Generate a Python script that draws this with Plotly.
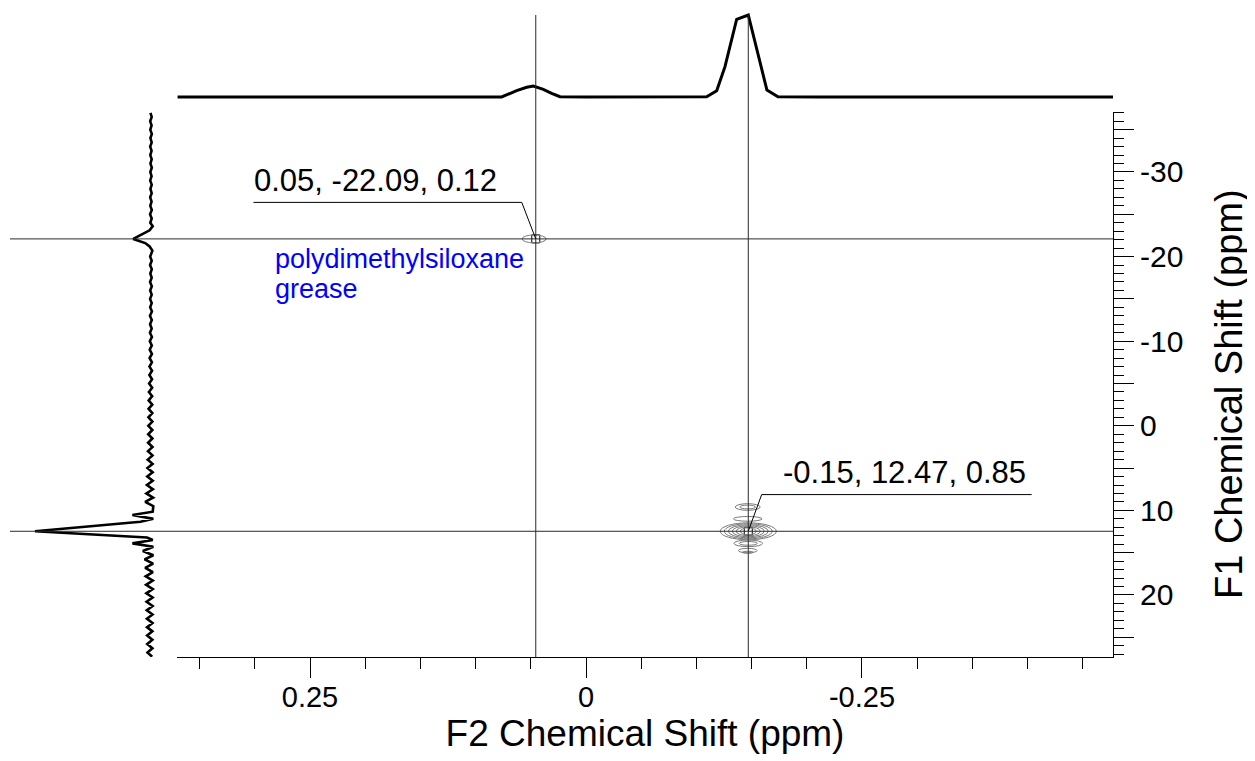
import plotly.graph_objects as go

# ---------------- data ----------------
# F2 projection (top trace): chemical shift (ppm) and relative intensity
f2_ppm = [0.37, 0.34, 0.31, 0.28, 0.25, 0.22, 0.19, 0.16, 0.145, 0.141, 0.137,
          0.11, 0.09, 0.0764, 0.0628, 0.0537, 0.0477, 0.0387, 0.0311, 0.0236,
          0.0, -0.02, -0.04, -0.06, -0.08, -0.1, -0.1093, -0.1184, -0.1259,
          -0.1365, -0.147, -0.1549, -0.1639, -0.1739, -0.19, -0.21, -0.23,
          -0.25, -0.27, -0.285, -0.289, -0.293, -0.31, -0.33, -0.35, -0.37,
          -0.39, -0.41, -0.43, -0.45, -0.4774]
f2_int = [0, 0, 0, 0, 0, 0, 0, 0, 0.002, 0.008, 0.002,
          0, 0, 0.0, 0.077, 0.118, 0.134, 0.094, 0.045, 0.004,
          0, 0, 0, 0, 0, 0.002, 0.004, 0.077, 0.37,
          0.948, 1.0, 0.573, 0.085, 0.004, 0, 0, 0,
          0, 0, 0.002, 0.008, 0.002, 0, 0, 0, 0,
          0, 0, 0, 0, 0]

# F1 projection (left trace)
f1_ppm = [-37.0, -36.5, -36.0, -35.5, -35.0, -34.5, -34.0, -33.5, -33.0, -32.5,
          -32.0, -31.5, -31.0, -30.5, -30.0, -29.5, -29.0, -28.5, -28.0, -27.5,
          -27.0, -26.5, -26.0, -25.5, -25.0, -24.5, -24.0,
          -23.6, -23.1, -22.7, -22.09, -21.6, -21.2, -20.7,
          -20.0, -19.5, -19.0, -18.5, -18.0, -17.5, -17.0, -16.5, -16.0, -15.5,
          -15.0, -14.5, -14.0, -13.5, -13.0, -12.5, -12.0, -11.5, -11.0, -10.5,
          -10.0, -9.5, -9.0, -8.5, -8.0, -7.5, -7.0, -6.5, -6.0, -5.5,
          -5.0, -4.5, -4.0, -3.5, -3.0, -2.5, -2.0, -1.5, -1.0, -0.5,
          0.0, 0.5, 1.0, 1.5, 2.0, 2.5, 3.0, 3.5, 4.0, 4.5,
          5.0, 5.5, 6.0, 6.5, 7.0, 7.5, 8.0, 8.5, 9.0, 9.5,
          10.15, 10.55, 11.0, 11.35, 12.47, 13.2, 13.5, 13.9, 14.3,
          14.8, 15.3, 15.8, 16.3, 16.8, 17.3, 17.8, 18.3, 18.8, 19.3,
          19.8, 20.3, 20.8, 21.3, 21.8, 22.3, 22.8, 23.3, 23.8, 24.3,
          24.8, 25.3, 25.8, 26.3, 26.8, 27.3]
f1_int = [0.005, -0.006, 0.007, -0.005, 0.006, -0.007, 0.005, -0.006, 0.007, -0.005,
          0.006, -0.006, 0.005, -0.007, 0.006, -0.005, 0.007, -0.006, 0.005, -0.006,
          0.007, -0.005, 0.006, -0.007, 0.008, -0.006, 0.006,
          -0.015, 0.012, 0.07, 0.153, 0.05, 0.012, -0.012,
          0.007, -0.006, 0.008, -0.007, 0.006, -0.006, 0.008, -0.007, 0.007, -0.006,
          0.008, -0.006, 0.007, -0.008, 0.009, -0.007, 0.008, -0.006, 0.009, -0.008,
          0.010, -0.007, 0.011, -0.008, 0.012, -0.008, 0.013, -0.009, 0.014, -0.009,
          0.016, -0.010, 0.018, -0.010, 0.020, -0.011, 0.021, -0.011, 0.022, -0.012,
          0.023, -0.012, 0.024, -0.012, 0.025, -0.013, 0.026, -0.013, 0.028, -0.014,
          0.030, -0.014, 0.032, -0.015, 0.035, -0.016, 0.040, -0.018, 0.050, -0.020,
          -0.015, 0.16, -0.02, 0.09, 1.0, 0.035, -0.015, 0.16, -0.02,
          0.07, -0.02, 0.055, -0.018, 0.05, -0.016, 0.045, -0.015, 0.042, -0.015,
          0.04, -0.014, 0.038, -0.014, 0.036, -0.013, 0.035, -0.013, 0.034, -0.012,
          0.033, -0.012, 0.032, -0.012, 0.03, -0.01]

# picked peaks
peak_f2 = [0.0455, -0.147]
peak_f1 = [-22.09, 12.47]
peak_labels = ["0.05, -22.09, 0.12", "-0.15, 12.47, 0.85"]
peak_name = ["polydimethylsiloxane", "grease"]

# contour rings (center F2, center F1, half-width F2, half-height F1) in ppm
contour_f2 = [0.047, -0.147, -0.147, -0.147, -0.147, -0.147, -0.147,
              -0.1465, -0.1465, -0.1465, -0.147, -0.147, -0.1465, -0.1465]
contour_f1 = [-22.09, 12.47, 12.47, 12.47, 12.47, 12.47, 12.47,
              9.6, 9.6, 11.0, 13.9, 13.9, 14.75, 14.95]
contour_hw = [0.0109, 0.0254, 0.0217, 0.0181, 0.0145, 0.0109, 0.0072,
              0.0113, 0.0072, 0.0130, 0.0130, 0.0082, 0.0085, 0.0050]
contour_hh = [0.47, 1.0, 0.89, 0.77, 0.65, 0.53, 0.41,
              0.39, 0.22, 0.28, 0.39, 0.22, 0.26, 0.12]

x_tickvals = [0.25, 0, -0.25]
x_ticktext = ["0.25", "0", "-0.25"]
y_tickvals = [-35, -30, -25, -20, -15, -10, -5, 0, 5, 10, 15, 20, 25]
y_ticktext = ["", "-30", "", "-20", "", "-10", "", "0", "", "10", "", "20", ""]
x_title = "F2 Chemical Shift (ppm)"
y_title = "F1 Chemical Shift (ppm)"

# ---------------- layout geometry ----------------
# target positions are given in window pixels; the page body adds an 8 px margin
OFF = 8
W, H = 1255 - OFF, 761 - OFF


def fx(px):
    return (px - OFF) / W


def fy(py):
    return 1 - (py - OFF) / H


PL, PR, PT, PB = 177, 1113, 112, 657
TOP_T, TOP_B = 10, 100
TOP_BASE, TOP_PEAK = 97, 15
LEFT_BASE, LEFT_PEAK = 151, 35

x_range = [0.3705, -0.4774]
y_range = [27.33, -37.09]

fb = (TOP_B - TOP_BASE) / (TOP_B - TOP_T)
fp = (TOP_B - TOP_PEAK) / (TOP_B - TOP_T)
span = 1 / (fp - fb)
y2_range = [-fb * span, -fb * span + span]
L0 = OFF
gb = (LEFT_BASE - L0) / (PL - L0)
gp = (LEFT_PEAK - L0) / (PL - L0)
span3 = 1 / (gp - gb)
x3_range = [-gb * span3, -gb * span3 + span3]

FONT = "Liberation Sans, Arial, sans-serif"

fig = go.Figure()

fig.add_trace(go.Scatter(x=f2_ppm, y=f2_int, xaxis="x", yaxis="y2", mode="lines",
                         line=dict(color="black", width=3), hoverinfo="skip",
                         showlegend=False))
fig.add_trace(go.Scatter(x=f1_int, y=f1_ppm, xaxis="x3", yaxis="y", mode="lines",
                         line=dict(color="black", width=2.6), hoverinfo="skip",
                         showlegend=False))
fig.add_trace(go.Scatter(x=peak_f2, y=peak_f1, xaxis="x", yaxis="y", mode="markers",
                         marker=dict(symbol="square-open", size=8,
                                     line=dict(color="black", width=1), color="black"),
                         hoverinfo="skip", showlegend=False))

shapes = []
for cx, cy, hw, hh in zip(contour_f2, contour_f1, contour_hw, contour_hh):
    shapes.append(dict(type="circle", xref="x", yref="y",
                       x0=cx - hw, x1=cx + hw, y0=cy - hh, y1=cy + hh,
                       line=dict(color="#7a7a7a", width=1), layer="above"))
for px in peak_f2:
    shapes.append(dict(type="line", xref="x", yref="paper", x0=px, x1=px,
                       y0=fy(PB), y1=fy(TOP_PEAK),
                       line=dict(color="#2a2a2a", width=1)))
for py in peak_f1:
    shapes.append(dict(type="line", xref="paper", yref="y", x0=fx(10), x1=fx(PR),
                       y0=py, y1=py, line=dict(color="#2a2a2a", width=1)))
leaders = [(-14, 36.5, -282.3), (13.4, 36.7, 283.4)]
for (px, py, (lx, ly, ux)) in zip(peak_f2, peak_f1, leaders):
    shapes.append(dict(type="line", xref="x", yref="y", xsizemode="pixel",
                       ysizemode="pixel", xanchor=px, yanchor=py,
                       x0=0, y0=0, x1=lx, y1=ly, line=dict(color="black", width=1)))
    shapes.append(dict(type="line", xref="x", yref="y", xsizemode="pixel",
                       ysizemode="pixel", xanchor=px, yanchor=py,
                       x0=lx, y0=ly, x1=ux, y1=ly, line=dict(color="black", width=1)))

annotations = [
    dict(x=peak_f2[0], y=peak_f1[0], xref="x", yref="y", text=peak_labels[0],
         showarrow=False, xanchor="left", yanchor="bottom", xshift=-284, yshift=39,
         font=dict(family=FONT, size=31, color="black")),
    dict(x=peak_f2[1], y=peak_f1[1], xref="x", yref="y", text=peak_labels[1],
         showarrow=False, xanchor="left", yanchor="bottom", xshift=33, yshift=39,
         font=dict(family=FONT, size=31, color="black")),
    dict(x=peak_f2[0], y=peak_f1[0], xref="x", yref="y", text=peak_name[0],
         showarrow=False, xanchor="left", yanchor="top", xshift=-263, yshift=-3,
         font=dict(family=FONT, size=27, color="#0000ff")),
    dict(x=peak_f2[0], y=peak_f1[0], xref="x", yref="y", text=peak_name[1],
         showarrow=False, xanchor="left", yanchor="top", xshift=-263, yshift=-33,
         font=dict(family=FONT, size=27, color="#0000ff")),
    dict(x=fx(1229), y=fy(394), xref="paper", yref="paper", text=y_title,
         showarrow=False, textangle=-90, xanchor="center", yanchor="middle",
         font=dict(family=FONT, size=38, color="black")),
]

fig.update_layout(
    width=W, height=H, autosize=False,
    margin=dict(l=0, r=0, t=0, b=0, pad=0),
    paper_bgcolor="white", plot_bgcolor="white",
    font=dict(family=FONT, color="black"),
    showlegend=False,
    xaxis=dict(domain=[fx(PL), fx(PR)], range=x_range, anchor="y",
               showgrid=False, zeroline=False, showline=True, linecolor="black",
               linewidth=1, ticks="outside", ticklen=20, tickwidth=1,
               tickcolor="black", tickvals=x_tickvals, ticktext=x_ticktext,
               tickfont=dict(family=FONT, size=29), ticklabelstandoff=-6,
               minor=dict(dtick=0.05, tick0=0, ticks="outside", ticklen=11,
                          tickwidth=1, tickcolor="black", showgrid=False),
               title=dict(text=x_title, standoff=4,
                          font=dict(family=FONT, size=37))),
    yaxis=dict(domain=[fy(PB), fy(PT)], range=y_range, anchor="x",
               side="right", showgrid=False, zeroline=False, showline=True,
               linecolor="black", linewidth=1, ticks="outside", ticklen=20,
               tickwidth=1, tickcolor="black", tickvals=y_tickvals,
               ticktext=y_ticktext, tickfont=dict(family=FONT, size=30),
               minor=dict(dtick=1, tick0=0, ticks="outside", ticklen=10,
                          tickwidth=1, tickcolor="black", showgrid=False)),
    yaxis2=dict(domain=[fy(TOP_B), fy(TOP_T)], range=y2_range, anchor="x",
                visible=False),
    xaxis3=dict(domain=[0, fx(PL)], range=x3_range, anchor="y", visible=False),
    shapes=shapes,
    annotations=annotations,
)

fig.write_html("out.html")
